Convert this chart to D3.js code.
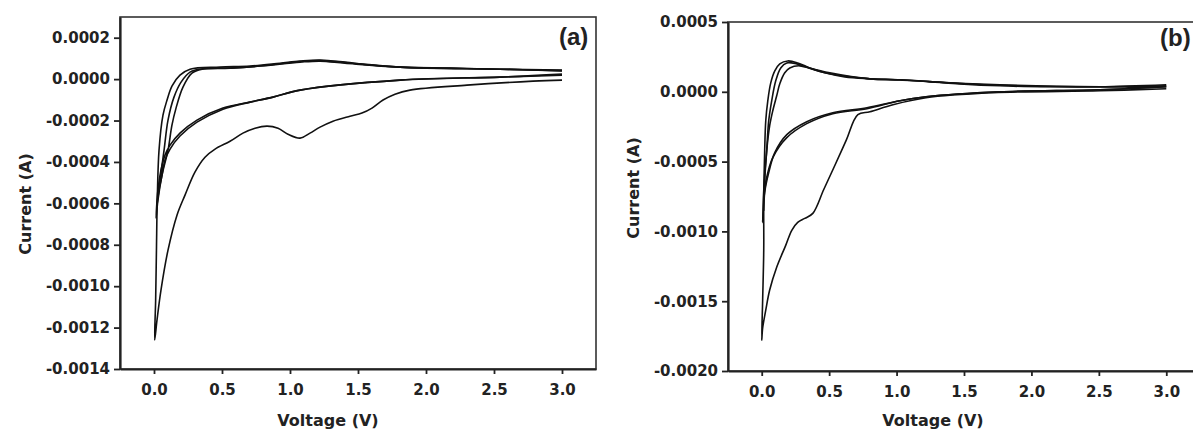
<!DOCTYPE html>
<html>
<head>
<meta charset="utf-8">
<script src="https://cdn.jsdelivr.net/npm/d3@7"></script>
<style>
  body { margin: 0; background: #fff; }
  svg { display: block; }
  .tick text { font-family: "DejaVu Sans", sans-serif; font-weight: bold; font-size: 15px; fill: #222; }
</style>
</head>
<body>
<script>
// tick values
const xTicks = [0, 0.5, 1.0, 1.5, 2.0, 2.5, 3.0];
const yTicksA = [0.0002, 0, -0.0002, -0.0004, -0.0006, -0.0008, -0.0010, -0.0012, -0.0014];
const yTicksB = [0.0005, 0, -0.0005, -0.0010, -0.0015, -0.0020];

// panel (a) cycles, [voltage V, current A]
const aCycle1 = [
  [3.0,-0.0000048],[2.787,-0.0000097],[2.301,-0.000029],[1.882,-0.000053],[1.772,-0.0000725],
  [1.684,-0.000101],[1.603,-0.00014],[1.529,-0.000164],[1.441,-0.000179],[1.316,-0.000203],
  [1.221,-0.000232],[1.147,-0.000261],[1.074,-0.000285],[0.985,-0.000266],[0.912,-0.000237],
  [0.831,-0.000227],[0.743,-0.000237],[0.654,-0.000261],[0.559,-0.0003],[0.449,-0.000338],
  [0.375,-0.000377],[0.301,-0.000449],[0.228,-0.00056],[0.169,-0.000657],[0.103,-0.000826],
  [0.051,-0.00102],[0.022,-0.001164],[0.005,-0.00126],
  [0.012,-0.00107],[0.018,-0.000826],[0.024,-0.000584],[0.037,-0.000343],[0.066,-0.000174],
  [0.096,-0.000101],[0.132,-0.0000338],[0.191,0.0000193],[0.265,0.000048],[0.485,0.000058],
  [0.706,0.000063],[0.926,0.000077],[1.074,0.000087],[1.221,0.000092],[1.404,0.000082],
  [1.588,0.000068],[1.809,0.000058],[2.176,0.000053],[2.544,0.000048],[3.0,0.0000435]
];
const aCycle2 = [
  [3.0,0.000024],[2.544,0.0000097],[1.809,-0.0000048],[1.074,-0.000053],[0.875,-0.000087],
  [0.706,-0.000111],[0.507,-0.00014],[0.316,-0.000198],[0.191,-0.000261],[0.118,-0.000319],
  [0.081,-0.000367],[0.051,-0.00044],[0.029,-0.000536],[0.015,-0.000671],
  [0.029,-0.000584],[0.059,-0.000464],[0.103,-0.000343],[0.132,-0.000222],[0.162,-0.00014],
  [0.213,-0.0000386],[0.279,0.000029],[0.353,0.000048],[0.559,0.000053],[0.78,0.000063],
  [1.074,0.000082],[1.221,0.000087],[1.404,0.000077],[1.809,0.000058],[2.544,0.000048],[3.0,0.000039]
];
const aCycle3 = [
  [3.0,0.0000193],[2.544,0.0000097],[1.809,-0.0000048],[1.074,-0.000053],[0.875,-0.000087],
  [0.706,-0.000111],[0.507,-0.000145],[0.316,-0.000208],[0.191,-0.000275],[0.118,-0.000338],
  [0.081,-0.000391],[0.059,-0.000464],[0.037,-0.000536],[0.022,-0.000609],
  [0.044,-0.000488],[0.074,-0.000343],[0.103,-0.000198],[0.147,-0.000087],[0.199,-0.0000145],
  [0.265,0.0000338],[0.338,0.000048],[0.559,0.000053],[0.78,0.000063],[1.074,0.000085],
  [1.221,0.00009],[1.404,0.00008],[1.809,0.000058],[2.544,0.000048],[3.0,0.000041]
];

// panel (b) cycles
const bCycle1 = [
  [3.0,0.0000214],[2.509,0.0000071],[1.715,-0.0000071],[1.218,-0.0000428],[0.973,-0.0000928],
  [0.802,-0.000143],[0.713,-0.000164],[0.627,-0.000346],[0.542,-0.000528],[0.46,-0.0007],
  [0.379,-0.000871],[0.319,-0.000907],
  [0.267,-0.000935],[0.223,-0.000992],[0.178,-0.0011],[0.111,-0.001257],[0.059,-0.00142],
  [0.03,-0.001564],[0.007,-0.001692],[0.0,-0.00178],
  [0.007,-0.00149],[0.015,-0.001135],[0.015,-0.000778],[0.022,-0.000421],[0.03,-0.000207],
  [0.045,-0.0000643],[0.067,0.0000643],[0.097,0.00015],[0.134,0.0002],[0.193,0.000221],
  [0.267,0.000207],[0.356,0.000171],[0.468,0.000136],[0.616,0.000107],[0.802,0.000094],
  [1.025,0.000086],[1.247,0.0000735],[1.47,0.0000571],[1.767,0.0000428],[2.138,0.0000357],
  [2.509,0.0000357],[3.0,0.00005]
];
const bCycle2 = [
  [3.0,0.0000357],[2.509,0.0000143],[1.767,0.0],[1.218,-0.0000357],[1.025,-0.0000643],
  [0.78,-0.000121],[0.527,-0.000157],[0.334,-0.000228],[0.186,-0.000328],[0.082,-0.000471],
  [0.037,-0.000614],[0.015,-0.000778],[0.007,-0.000935],
  [0.015,-0.000707],[0.037,-0.000421],[0.059,-0.000243],[0.082,-0.000136],[0.111,-0.0000286],
  [0.134,0.0000571],[0.171,0.000136],[0.208,0.000171],[0.282,0.000186],[0.393,0.000157],
  [0.505,0.000129],[0.802,0.0000928],[1.025,0.000085],[1.247,0.0000714],[1.767,0.00005],
  [2.509,0.0000357],[3.0,0.0000357]
];
const bCycle3 = [
  [3.0,0.0000357],[2.509,0.0000143],[1.767,0.0],[1.218,-0.0000357],[1.025,-0.0000643],
  [0.78,-0.000114],[0.527,-0.00015],[0.334,-0.000214],[0.186,-0.000307],[0.097,-0.000436],
  [0.052,-0.000578],[0.022,-0.000721],[0.015,-0.00085],
  [0.022,-0.000635],[0.037,-0.000421],[0.052,-0.000207],[0.074,-0.0000643],[0.104,0.0000786],
  [0.141,0.000171],[0.186,0.000207],[0.26,0.0002],[0.356,0.000171],[0.505,0.000136],
  [0.802,0.0000928],[1.025,0.000086],[1.247,0.000073],[1.767,0.0000464],[2.509,0.0000357],
  [3.0,0.000043]
];

const width = 1193, height = 430;

const svg = d3.select("body")
    .append("svg")
    .attr("width", width)
    .attr("height", height)
    .attr("viewBox", [0, 0, width, height]);

const panels = [
  {cycles: [aCycle1, aCycle2, aCycle3], yDomain: [-0.0014, 0.0003], yTicks: yTicksA,
   left: 120, right: 596, top: 17, bottom: 369,
   label: "(a)", labelX: 559, labelY: 45, yTitleY: 204, xTitleX: 328},
  {cycles: [bCycle1, bCycle2, bCycle3], yDomain: [-0.0020, 0.0005], yTicks: yTicksB,
   left: 728, right: 1200, top: 22, bottom: 371,
   label: "(b)", labelX: 1160, labelY: 46, yTitleY: 188, xTitleX: 933}
];

panels.forEach(p => {
    const xscale = d3.scaleLinear().domain([-0.25, 3.25]).range([p.left, p.right]);
    const yscale = d3.scaleLinear().domain(p.yDomain).range([p.bottom, p.top]);

    // frame
    svg.append("rect")
        .attr("x", p.left).attr("y", p.top)
        .attr("width", p.right - p.left).attr("height", p.bottom - p.top)
        .attr("fill", "none")
        .attr("stroke", "#333")
        .attr("stroke-width", 1.6);

    // x-axis
    svg.append("g")
        .attr("transform", `translate(0,${p.bottom})`)
        .call(d3.axisBottom(xscale).tickValues(xTicks).tickFormat(d => d.toFixed(1))
            .tickSize(5).tickPadding(10).tickSizeOuter(0))
        .call(g => g.select(".domain").attr("stroke", "#222").attr("stroke-width", 2.2))
        .call(g => g.selectAll(".tick line").attr("stroke", "#222").attr("stroke-width", 1.8));

    // y-axis
    svg.append("g")
        .attr("transform", `translate(${p.left},0)`)
        .call(d3.axisLeft(yscale).tickValues(p.yTicks).tickFormat(d => d.toFixed(4))
            .tickSize(6).tickPadding(4).tickSizeOuter(0))
        .call(g => g.select(".domain").attr("stroke", "#222").attr("stroke-width", 2.2))
        .call(g => g.selectAll(".tick line").attr("stroke", "#222").attr("stroke-width", 1.8));

    var line = d3.line()
        .curve(d3.curveCatmullRom.alpha(0.5))
        .x(d => xscale(d[0]))
        .y(d => yscale(d[1]));

    svg.append("g")
        .selectAll("path")
        .data(p.cycles)
        .join("path")
        .attr("fill", "none")
        .attr("stroke", "#111")
        .attr("stroke-width", 1.6)
        .attr("stroke-linejoin", "round")
        .attr("d", line);

    svg.append("text")
        .attr("x", p.labelX)
        .attr("y", p.labelY)
        .attr("font-family", "Liberation Sans, Arial, sans-serif")
        .attr("font-weight", "bold")
        .attr("font-size", 24)
        .attr("fill", "#222")
        .text(p.label);

    svg.append("text")
        .attr("transform", `translate(${p.left - 89},${p.yTitleY}) rotate(-90)`)
        .attr("text-anchor", "middle")
        .attr("font-family", "DejaVu Sans, sans-serif")
        .attr("font-weight", "bold")
        .attr("font-size", 16)
        .attr("fill", "#222")
        .text("Current (A)");

    svg.append("text")
        .attr("x", p.xTitleX)
        .attr("y", 426)
        .attr("text-anchor", "middle")
        .attr("font-family", "DejaVu Sans, sans-serif")
        .attr("font-weight", "bold")
        .attr("font-size", 16)
        .attr("fill", "#222")
        .text("Voltage (V)");
});
</script>
</body>
</html>
